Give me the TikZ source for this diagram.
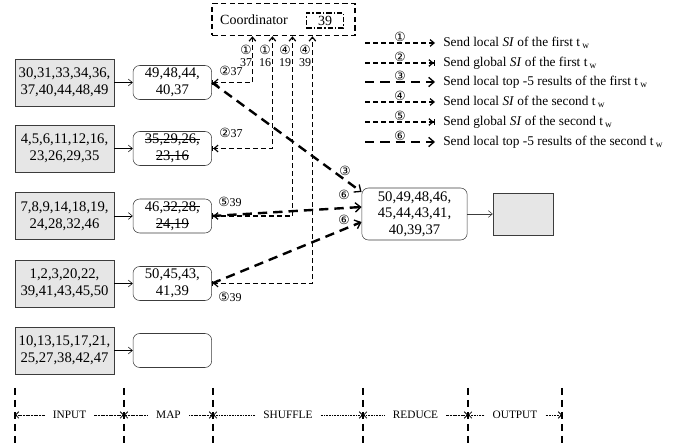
\documentclass[tikz,border=0pt]{standalone}
\usepackage{fontspec}
\setmainfont{Liberation Serif}
\newfontfamily\circfont{DejaVu Sans}
\usepackage{tikz}
\usetikzlibrary{arrows.meta, positioning, calc}
\definecolor{boxgray}{RGB}{230,230,230}
\definecolor{edgegray}{RGB}{60,60,60}
\newcommand{\cn}[1]{{\circfont\fontsize{9.5}{9.5}\selectfont #1}}
\newsavebox{\strkbox}
\newcommand{\strk}[1]{\sbox{\strkbox}{#1}\rlap{\usebox{\strkbox}}\rule[0.3em]{\wd\strkbox}{0.5pt}}
\tikzset{
  tipsi/.tip={Straight Barb[length=3pt,width=5pt]},
  tipgl/.tip={Straight Barb[length=3pt,width=5pt] Bar[width=4pt]},
  tiptk/.tip={Straight Barb[length=4pt,width=7pt,line width=1pt]},
  inbox/.style={draw=edgegray, fill=boxgray, minimum width=74pt, minimum height=35pt,
    align=center, inner sep=1pt},
  mapbox/.style={draw=edgegray, rounded corners=5pt, minimum width=59pt, minimum height=25.5pt,
    align=center, inner sep=1pt},
  feed/.style={-{Straight Barb[length=3pt,width=5pt]}, thin},
  sis/.style={line width=0.9pt, dash pattern=on 3.5pt off 2.5pt},
  legsi/.style={sis, -tipsi},
  leggl/.style={sis, -tipgl},
  topk/.style={line width=1.8pt, dash pattern=on 7pt off 4.5pt, -tiptk},
  tag/.style={font=\fontsize{9}{8.5}\selectfont, inner sep=0.5pt, align=center},
  legtext/.style={font=\fontsize{10}{12}\selectfont, anchor=west, inner sep=0pt},
  stage/.style={font=\fontsize{8.5}{9}\selectfont, inner sep=6pt},
  phase/.style={line width=0.6pt, dash pattern=on 0.8pt off 0.4pt,
    -{Straight Barb[length=2.5pt,width=5pt]}},
  cut/.style={line width=1pt, dash pattern=on 5pt off 4pt}
}

\begin{document}
\begin{tikzpicture}[x=0.75pt, y=-0.75pt, font=\fontsize{11}{12.5}\selectfont]
  \useasboundingbox (0,0) rectangle (689,448);

  \node[draw, line width=1.1pt, dash pattern=on 4pt off 2.5pt,
        minimum width=107pt, minimum height=24pt] (coord) at (283.5,19.5) {};
  \node[font=\fontsize{10.5}{12}\selectfont] (ctitle) at (254,20) {Coordinator};
  \node[draw, line width=1.1pt, dash pattern=on 4pt off 1.5pt on 1pt off 1.5pt,
        minimum width=28pt, minimum height=11pt, inner sep=0pt,
        font=\fontsize{10.5}{12}\selectfont] (cval) at (325,20.5) {39};

  \node[inbox] (i1) at (64.5,82.5) {30,31,33,34,36,\\37,40,44,48,49};
  \node[inbox] (i2) at (64.5,148.5) {4,5,6,11,12,16,\\23,26,29,35};
  \node[inbox] (i3) at (64.5,216) {7,8,9,14,18,19,\\24,28,32,46};
  \node[inbox] (i4) at (64.5,283.5) {1,2,3,20,22,\\39,41,43,45,50};
  \node[inbox] (i5) at (64.5,350.5) {10,13,15,17,21,\\25,27,38,42,47};

  \node[mapbox, right=14pt of i1] (m1) {49,48,44,\\40,37};
  \node[mapbox, right=14pt of i2] (m2) {\strk{35,29,26,}\\\strk{23,16}};
  \node[mapbox, right=14pt of i3] (m3) {46,\strk{32,28,}\\\strk{24,19}};
  \node[mapbox, right=14pt of i4] (m4) {50,45,43,\\41,39};
  \node[mapbox, right=14pt of i5] (m5) {};

  \foreach \k in {1,...,5}
    \draw[feed] (i\k.east) -- (m\k.west);

  \node[mapbox, minimum width=79pt, minimum height=39pt] (red) at (414.5,214)
    {50,49,48,46,\\45,44,43,41,\\40,39,37};
  \node[draw=edgegray, fill=boxgray, minimum width=45pt, minimum height=31.5pt,
        right=19pt of red] (outb) {};
  \draw[feed, edgegray] (red.east) -- (outb.west);

  \coordinate (up1) at ($(coord.south west)+(41,0)$);
  \coordinate (up2) at ($(coord.south west)+(61,0)$);
  \coordinate (up3) at ($(coord.south west)+(81,0)$);
  \coordinate (up4) at ($(coord.south west)+(101,0)$);
  \draw[sis, tipgl-tipsi] (m1.east) -| (up1);
  \draw[sis, tipgl-tipsi] (m2.east) -| (up2);
  \draw[sis, tipgl-tipsi] (m3.east) -| (up3);
  \draw[sis, tipgl-tipsi] (m4.east) -| (up4);

  \node[tag] (t1) at (246,56) {\cn{①}\\37};
  \node[tag] (t2) at (265,56) {\cn{①}\\16};
  \node[tag] (t3) at (285,56) {\cn{④}\\19};
  \node[tag] (t4) at (305,56) {\cn{④}\\39};
  \node[tag] (g1) at (231,71) {\cn{②}37};
  \node[tag] (g2) at (231,133) {\cn{②}37};
  \node[tag] (g3) at (230,202) {\cn{⑤}39};
  \node[tag] (g4) at (230,297) {\cn{⑤}39};

  \draw[topk] (m1.east) -- ($(red.west)+(0,-22)$);
  \draw[topk] (m3.east) -- ($(red.west)+(0,-7)$);
  \draw[topk] (m4.east) -- ($(red.west)+(0,8)$);
  \node[tag] (k1) at (345,171) {\cn{③}};
  \node[tag] (k2) at (344,195) {\cn{⑥}};
  \node[tag] (k3) at (344,220) {\cn{⑥}};

  \foreach \r/\y/\sty/\c/\txt in {
      1/43/legsi/①/{Send local \textit{SI} of the first t\,\textsubscript{w}},
      2/63/leggl/②/{Send global \textit{SI} of the first t\,\textsubscript{w}},
      3/82/topk/③/{Send local top -5 results of the first t\,\textsubscript{w}},
      4/102/legsi/④/{Send local \textit{SI} of the second t\,\textsubscript{w}},
      5/122/leggl/⑤/{Send global \textit{SI} of the second t\,\textsubscript{w}},
      6/142/topk/⑥/{Send local top -5 results of the second t\,\textsubscript{w}}} {
    \coordinate (la\r) at (365,\y);
    \coordinate (lb\r) at (435,\y);
    \draw[\sty] (la\r) -- (lb\r) node[midway, above=0pt, tag] {\cn{\c}};
    \node[legtext] (lt\r) at (443,\y) {\txt};
  }

  \foreach \x in {15,124,213,363,468,562}
    \draw[cut] (\x,388) -- (\x,446);
  \foreach \a/\b/\nm/\txt in {15/124/in/INPUT, 124/213/map/MAP, 213/363/shf/SHUFFLE,
                              363/468/red/REDUCE, 468/562/out/OUTPUT} {
    \coordinate (sa\nm) at (\a,415);
    \coordinate (sb\nm) at (\b,415);
    \node[stage] (st\nm) at ({(\a+\b)/2},415) {\txt};
    \draw[phase] (st\nm.west) -- (sa\nm);
    \draw[phase] (st\nm.east) -- (sb\nm);
  }
\end{tikzpicture}
\end{document}
